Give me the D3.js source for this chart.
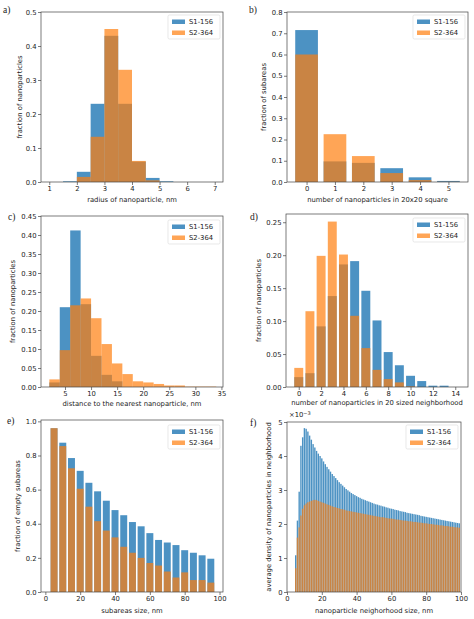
<!DOCTYPE html>
<html><head><meta charset="utf-8">
<script src="https://cdn.jsdelivr.net/npm/d3@7"></script>
<style>
body{margin:0;background:#fff}
svg{display:block}
text{font-family:"DejaVu Sans",sans-serif;fill:#222}
</style>
</head><body>
<svg id="fig" width="474" height="619"></svg>
<script>
// ---------- data ----------
const seriesNames = ["S1-156", "S2-364"];

// a) radius histogram, bins of 0.5 nm starting at 1
const radiusBinStart = [1, 1.5, 2, 2.5, 3, 3.5, 4, 4.5, 5, 5.5, 6, 6.5];
const radiusBinWidth = 0.5;
const radiusS1 = [0, 0.002, 0.03, 0.23, 0.43, 0.23, 0.06, 0.012, 0.002, 0, 0, 0];
const radiusS2 = [0, 0, 0.015, 0.133, 0.45, 0.33, 0.062, 0.005, 0, 0, 0, 0];

// b) number of nanoparticles in 20x20 square
const squareCounts = [0, 1, 2, 3, 4, 5];
const squareS1 = [0.715, 0.097, 0.09, 0.065, 0.022, 0.005];
const squareS2 = [0.6, 0.225, 0.122, 0.042, 0.009, 0.001];

// c) nearest-neighbour distance histogram, bins of 2 nm starting at 2
const distBinStart = [2, 4, 6, 8, 10, 12, 14, 16, 18, 20, 22, 24, 26, 28, 30, 32];
const distBinWidth = 2;
const distS1 = [0.012, 0.21, 0.412, 0.218, 0.082, 0.032, 0.015, 0, 0, 0, 0, 0, 0, 0, 0, 0];
const distS2 = [0.02, 0.097, 0.215, 0.233, 0.181, 0.113, 0.062, 0.034, 0.015, 0.012, 0.008, 0.004, 0.004, 0.001, 0.001, 0.001];

// d) number of nanoparticles in 20 sized neighborhood
const neighCounts = [0, 1, 2, 3, 4, 5, 6, 7, 8, 9, 10, 11, 12, 13, 14];
const neighS1 = [0.015, 0.021, 0.092, 0.138, 0.186, 0.191, 0.146, 0.101, 0.053, 0.033, 0.017, 0.009, 0.002, 0.002, 0];
const neighS2 = [0.029, 0.115, 0.199, 0.251, 0.201, 0.108, 0.059, 0.026, 0.012, 0.007, 0.001, 0, 0, 0, 0];

// e) fraction of empty subareas vs subarea size
const subSizes = [5, 10, 15, 20, 25, 30, 35, 40, 45, 50, 55, 60, 65, 70, 75, 80, 85, 90, 95];
const subS1 = [0.96, 0.875, 0.785, 0.71, 0.64, 0.59, 0.535, 0.48, 0.45, 0.41, 0.385, 0.345, 0.305, 0.29, 0.275, 0.245, 0.23, 0.215, 0.195];
const subS2 = [0.96, 0.855, 0.725, 0.605, 0.50, 0.415, 0.36, 0.32, 0.265, 0.23, 0.20, 0.17, 0.155, 0.12, 0.085, 0.115, 0.07, 0.07, 0.055];

// f) average density (x 1e-3) vs neighborhood size 5..99 nm
const densSizes = [5,6,7,8,9,10,11,12,13,14,15,16,17,18,19,20,21,22,23,24,25,26,27,28,29,30,31,32,33,34,35,36,37,38,39,40,41,42,43,44,45,46,47,48,49,50,51,52,53,54,55,56,57,58,59,60,61,62,63,64,65,66,67,68,69,70,71,72,73,74,75,76,77,78,79,80,81,82,83,84,85,86,87,88,89,90,91,92,93,94,95,96,97,98,99];
const densS1 = [1.08,2.10,2.95,4.30,4.55,4.82,4.80,4.72,4.60,4.48,4.35,4.25,4.15,4.07,4.00,3.93,3.84,3.76,3.68,3.61,3.54,3.47,3.41,3.35,3.29,3.23,3.18,3.13,3.08,3.03,2.99,2.95,2.91,2.88,2.85,2.82,2.79,2.77,2.74,2.72,2.70,2.68,2.66,2.64,2.62,2.60,2.58,2.57,2.55,2.54,2.52,2.51,2.49,2.48,2.46,2.45,2.44,2.42,2.41,2.40,2.38,2.37,2.36,2.35,2.33,2.32,2.31,2.30,2.29,2.28,2.27,2.26,2.24,2.23,2.22,2.21,2.20,2.19,2.18,2.17,2.16,2.15,2.14,2.13,2.12,2.11,2.10,2.09,2.08,2.07,2.06,2.05,2.04,2.03,2.02];
const densS2 = [0.70,1.60,1.90,2.25,2.45,2.55,2.60,2.64,2.66,2.68,2.70,2.71,2.70,2.68,2.66,2.64,2.62,2.60,2.58,2.56,2.54,2.52,2.50,2.49,2.47,2.46,2.44,2.43,2.42,2.40,2.39,2.38,2.37,2.36,2.35,2.34,2.33,2.32,2.31,2.30,2.29,2.28,2.27,2.26,2.25,2.24,2.23,2.22,2.21,2.20,2.20,2.19,2.18,2.17,2.16,2.16,2.15,2.14,2.13,2.13,2.12,2.11,2.10,2.10,2.09,2.08,2.08,2.07,2.06,2.06,2.05,2.04,2.04,2.03,2.02,2.02,2.01,2.00,2.00,1.99,1.98,1.98,1.97,1.96,1.96,1.95,1.94,1.94,1.93,1.92,1.92,1.91,1.90,1.90,1.89];

// ---------- drawing ----------
const svg = d3.select("#fig");
const COLORS = [{fill: "#1f77b4", op: 0.8}, {fill: "#ff7f0e", op: 0.7}];
const FS = 6.8;

function histBars(starts, width, vals) {
  return starts.map((s, i) => ({x0: s, x1: s + width, v: vals[i]}));
}
function catBars(xs, width, vals) {
  return xs.map((x, i) => ({x0: x - width / 2, x1: x + width / 2, v: vals[i]}));
}

function panel(p) {
  const g = svg.append("g");
  const x = d3.scaleLinear().domain(p.xDomain).range([p.box[0], p.box[2]]);
  const y = d3.scaleLinear().domain(p.yDomain).range([p.box[3], p.box[1]]);

  p.series.forEach((bars, si) => {
    g.append("g").selectAll("rect").data(bars).join("rect")
      .attr("x", d => x(d.x0))
      .attr("width", d => Math.max(0, x(d.x1) - x(d.x0)))
      .attr("y", d => y(d.v))
      .attr("height", d => Math.max(0, y(0) - y(d.v)))
      .attr("fill", COLORS[si].fill)
      .attr("fill-opacity", COLORS[si].op);
  });

  // spines
  g.append("rect").attr("x", p.box[0]).attr("y", p.box[1])
    .attr("width", p.box[2] - p.box[0]).attr("height", p.box[3] - p.box[1])
    .attr("fill", "none").attr("stroke", "#444").attr("stroke-width", 0.7);

  const ax = g.append("g").attr("transform", `translate(0,${p.box[3]})`)
    .call(d3.axisBottom(x).tickValues(p.xTicks).tickFormat(d3.format("d")).tickSize(3).tickPadding(1.5));
  const ay = g.append("g").attr("transform", `translate(${p.box[0]},0)`)
    .call(d3.axisLeft(y).tickValues(p.yTicks).tickFormat(p.yFormat).tickSize(3).tickPadding(1.5));
  [ax, ay].forEach(a => {
    a.select(".domain").remove();
    a.selectAll("line").attr("stroke", "#444").attr("stroke-width", 0.7);
    a.selectAll("text").attr("font-size", FS).attr("font-family", "DejaVu Sans").attr("fill", "#222");
  });

  // axis labels
  g.append("text").attr("x", (p.box[0] + p.box[2]) / 2).attr("y", p.xlabelY)
    .attr("text-anchor", "middle").attr("font-size", FS).text(p.xlabel);
  g.append("text").attr("transform", `translate(${p.ylabelX},${(p.box[1] + p.box[3]) / 2}) rotate(-90)`)
    .attr("text-anchor", "middle").attr("dominant-baseline", "central").attr("font-size", FS).text(p.ylabel);

  // panel label
  g.append("text").attr("x", p.label[1]).attr("y", p.label[2])
    .attr("font-family", "Liberation Serif").style("font-family", "'Liberation Serif', serif")
    .attr("font-size", 9.5).attr("fill", "#111").text(p.label[0]);

  // legend
  const lx = p.box[2] - 55, ly = p.box[1] + (p.legendDy || 3);
  const lg = g.append("g").attr("transform", `translate(${lx},${ly})`);
  lg.append("rect").attr("width", 52).attr("height", 24).attr("rx", 1.5)
    .attr("fill", "#fff").attr("fill-opacity", 0.85).attr("stroke", "#d8d8d8").attr("stroke-width", 0.6);
  seriesNames.forEach((n, i) => {
    lg.append("rect").attr("x", 4).attr("y", 4.5 + i * 11).attr("width", 13).attr("height", 4.5)
      .attr("fill", COLORS[i].fill).attr("fill-opacity", COLORS[i].op);
    lg.append("text").attr("x", 21).attr("y", 7 + i * 11).attr("dominant-baseline", "central")
      .attr("font-size", FS).text(n);
  });
  return {g, x, y};
}

const f1 = d3.format(".1f"), f2 = d3.format(".2f");

panel({
  box: [41, 12, 223, 182], xDomain: [0.7, 7.3], yDomain: [0, 0.5],
  xTicks: [1, 2, 3, 4, 5, 6, 7], yTicks: [0, 0.1, 0.2, 0.3, 0.4, 0.5], yFormat: f1,
  series: [histBars(radiusBinStart, radiusBinWidth, radiusS1), histBars(radiusBinStart, radiusBinWidth, radiusS2)],
  xlabel: "radius of nanoparticle, nm", xlabelY: 202,
  ylabel: "fraction of nanoparticles", ylabelX: 20, label: ["a)", 3, 13]
});

panel({
  box: [287, 12, 468, 182], xDomain: [-0.69, 5.69], yDomain: [0, 0.8],
  xTicks: [0, 1, 2, 3, 4, 5], yTicks: [0, 0.1, 0.2, 0.3, 0.4, 0.5, 0.6, 0.7, 0.8], yFormat: f1,
  series: [catBars(squareCounts, 0.8, squareS1), catBars(squareCounts, 0.8, squareS2)],
  xlabel: "number of nanoparticles in 20x20 square", xlabelY: 202,
  ylabel: "fraction of subareas", ylabelX: 264, label: ["b)", 249, 13]
});

panel({
  box: [41, 216, 223, 387], xDomain: [0.4, 35.3], yDomain: [0, 0.45],
  xTicks: [5, 10, 15, 20, 25, 30, 35], yTicks: [0, 0.05, 0.1, 0.15, 0.2, 0.25, 0.3, 0.35, 0.4, 0.45], yFormat: f2,
  series: [histBars(distBinStart, distBinWidth, distS1), histBars(distBinStart, distBinWidth, distS2)],
  xlabel: "distance to the nearest nanoparticle, nm", xlabelY: 406,
  ylabel: "fraction of nanoparticles", ylabelX: 13, label: ["c)", 8, 220], legendDy: 4
});

panel({
  box: [286, 214, 468, 387], xDomain: [-1.14, 15.14], yDomain: [0, 0.2625],
  xTicks: [0, 2, 4, 6, 8, 10, 12, 14], yTicks: [0, 0.05, 0.1, 0.15, 0.2, 0.25], yFormat: f2,
  series: [catBars(neighCounts, 0.8, neighS1), catBars(neighCounts, 0.8, neighS2)],
  xlabel: "number of nanoparticles in 20 sized neighborhood", xlabelY: 405,
  ylabel: "fraction of nanoparticles", ylabelX: 259, label: ["d)", 250, 220], legendDy: 4
});

panel({
  box: [41, 420, 223, 592], xDomain: [-2.5, 102], yDomain: [0, 1.008],
  xTicks: [0, 20, 40, 60, 80, 100], yTicks: [0, 0.2, 0.4, 0.6, 0.8, 1.0], yFormat: f1,
  series: [catBars(subSizes, 4, subS1), catBars(subSizes, 4, subS2)],
  xlabel: "subareas size, nm", xlabelY: 613,
  ylabel: "fraction of empty subareas", ylabelX: 18, label: ["e)", 7, 424], legendDy: 5
});

const pf = panel({
  box: [287, 422, 461, 592], xDomain: [0, 100], yDomain: [0, 5.0],
  xTicks: [0, 20, 40, 60, 80, 100], yTicks: [0, 1, 2, 3, 4, 5], yFormat: d3.format("d"),
  series: [catBars(densSizes, 0.8, densS1), catBars(densSizes, 0.8, densS2)],
  xlabel: "nanoparticle neighorhood size, nm", xlabelY: 613,
  ylabel: "average density of nanoparticles in neighborhood", ylabelX: 269, label: ["f)", 250, 426], legendDy: 3
});
const off = pf.g.append("text").attr("x", 289).attr("y", 417).attr("font-size", FS);
off.append("tspan").text("×10");
off.append("tspan").attr("dy", -2.5).attr("font-size", 5).text("−3");
</script>
</body></html>
